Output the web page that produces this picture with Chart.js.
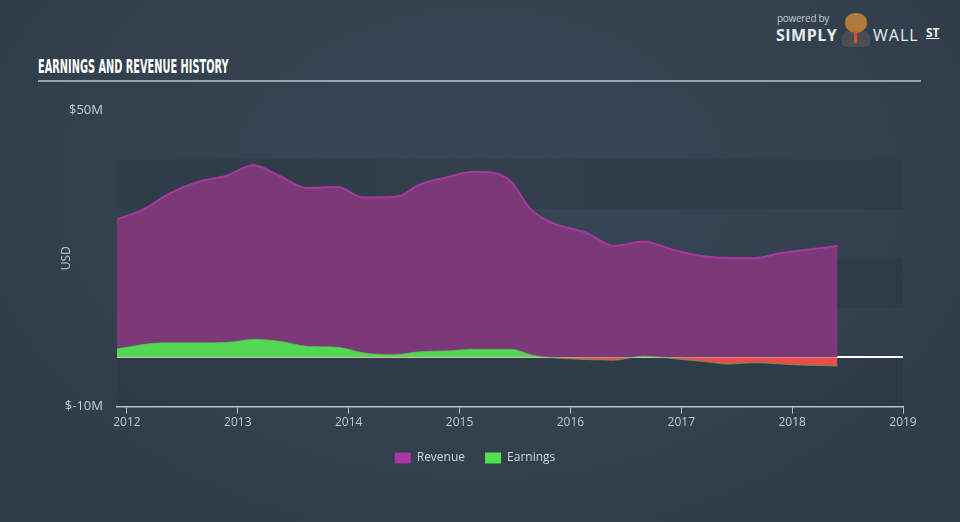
<!DOCTYPE html>
<html>
<head>
<meta charset="utf-8">
<script src="https://cdn.jsdelivr.net/npm/chart.js@4"></script>
<style>
  html, body { margin: 0; padding: 0; }
  body {
    width: 960px; height: 522px; overflow: hidden; position: relative;
    background: radial-gradient(ellipse at 50% 35%, #374655 0%, #33414f 55%, #2e3a47 100%);
    font-family: 'Open Sans', sans-serif;
  }
  #title {
    position: absolute; left: 38px; top: 55px;
    color: #fff; font-family: 'DejaVu Sans', sans-serif; font-weight: bold;
    font-size: 19px;
    transform: scaleX(0.516); transform-origin: left top; white-space: nowrap;
  }
  #rule { position: absolute; left: 38px; top: 80px; width: 883px; height: 2px; background: #9aa3ad; }
  #logo { position: absolute; left: 776px; top: 9px; width: 175px; height: 40px; color: #e8ecef; }
  #logo .pb { position: absolute; left: 1px; top: 2px; font-size: 10px; color: #c4cad0; letter-spacing: -0.3px; }
  #logo .simply { position: absolute; left: 0; top: 15px; font-size: 16px; font-weight: bold; letter-spacing: 0.5px; }
  #logo .wall { position: absolute; left: 97px; top: 15px; font-size: 16px; letter-spacing: 1px; }
  #logo .st { position: absolute; left: 150px; top: 15px; font-size: 12px; font-weight: bold; text-decoration: underline; }
  #logo .head { position: absolute; left: 69px; top: 4px; width: 22px; height: 20px; background: #b07a3a; border-radius: 45% 45% 50% 50%; }
  #logo .body { position: absolute; left: 66px; top: 20px; width: 28px; height: 18px; background: #4a4f55; border-radius: 50% 50% 20% 20%; }
  #logo .tie { position: absolute; left: 78px; top: 22px; width: 3px; height: 12px; background: #d8502a; }
  #chartBox { position: absolute; left: 0; top: 0; width: 960px; height: 522px; }
</style>
</head>
<body>
<div id="title">EARNINGS AND REVENUE HISTORY</div>
<div id="rule"></div>
<div id="logo">
  <span class="pb">powered by</span>
  <span class="simply">SIMPLY</span>
  <div class="body"></div><div class="head"></div><div class="tie"></div>
  <span class="wall">WALL</span>
  <span class="st">ST</span>
</div>
<div id="chartBox"><canvas id="chart" width="960" height="522"></canvas></div>
<script>
// Revenue history (USD millions), dates as decimal years
const revenueDates = [2011.91, 2012.14, 2012.39, 2012.66, 2012.90, 2013.14, 2013.38, 2013.62, 2013.90,
  2014.13, 2014.44, 2014.64, 2014.89, 2015.12, 2015.30, 2015.46, 2015.64, 2015.82, 2016.15, 2016.39,
  2016.66, 2016.93, 2017.23, 2017.65, 2017.89, 2018.41];
const revenueValues = [27.9, 29.8, 33.2, 35.6, 36.7, 38.8, 36.6, 34.2, 34.4,
  32.3, 32.5, 34.9, 36.4, 37.5, 37.3, 35.6, 30.0, 27.3, 25.1, 22.5,
  23.4, 21.7, 20.3, 20.0, 21.0, 22.5];

// Earnings history (USD millions)
const earningsDates = [2011.91, 2012.32, 2012.75, 2012.96, 2013.14, 2013.38, 2013.62, 2013.90, 2014.13,
  2014.40, 2014.64, 2014.92, 2015.10, 2015.46, 2015.66, 2015.82, 2015.97, 2016.39, 2016.66, 2016.93,
  2017.23, 2017.42, 2017.65, 2018.07, 2018.41];
const earningsValues = [1.7, 2.9, 2.9, 3.1, 3.6, 3.2, 2.2, 2.0, 0.9,
  0.5, 1.1, 1.3, 1.6, 1.6, 0.4, -0.1, -0.3, -0.6, 0.2, -0.3,
  -0.95, -1.4, -1.15, -1.6, -1.8];

const yearTicks = [2012, 2013, 2014, 2015, 2016, 2017, 2018, 2019];
const yLabels = { '50': '$50M', '-10': '$-10M' };

function toPoints(xs, ys) {
  return xs.map((x, i) => ({ x: x, y: ys[i] }));
}

Chart.defaults.font.family = "'Open Sans', sans-serif";
Chart.defaults.color = '#c3cad1';

// alternating horizontal bands behind the plot
const bandsPlugin = {
  id: 'bands',
  beforeDraw(chart) {
    const y = chart.scales.y, area = chart.chartArea, ctx = chart.ctx;
    ctx.save();
    ctx.fillStyle = 'rgba(30, 40, 52, 0.2)';
    [[-10, 0], [10, 20], [30, 40]].forEach(b => {
      const top = y.getPixelForValue(b[1]), bot = y.getPixelForValue(b[0]);
      ctx.fillRect(area.left, top, area.right - area.left, bot - top);
    });
    ctx.restore();
  }
};

new Chart(document.getElementById('chart'), {
  type: 'line',
  data: {
    datasets: [
      {
        label: 'Revenue',
        data: toPoints(revenueDates, revenueValues),
        borderColor: '#a8379f',
        backgroundColor: '#7b3a77',
        borderWidth: 2,
        fill: 'origin',
        pointRadius: 0,
        cubicInterpolationMode: 'monotone',
        order: 1
      },
      {
        label: 'Earnings',
        data: toPoints(earningsDates, earningsValues),
        borderColor: 'rgba(80, 200, 80, 0.6)',
        backgroundColor: '#52d853',
        borderWidth: 1,
        fill: { target: 'origin', above: '#52d853', below: '#e84c4c' },
        pointRadius: 0,
        cubicInterpolationMode: 'monotone',
        order: 0
      }
    ]
  },
  options: {
    responsive: false,
    animation: false,
    layout: { padding: { top: 110, right: 57, bottom: 48, left: 47 } },
    scales: {
      x: {
        type: 'linear',
        min: 2011.91,
        max: 2019,
        afterBuildTicks(scale) { scale.ticks = yearTicks.map(v => ({ value: v })); },
        ticks: { callback: v => String(v), maxRotation: 0, padding: 2, font: { size: 12 }, color: '#c3cad1' },
        grid: { drawOnChartArea: false, drawTicks: true, tickLength: 7, color: '#b8c2cc' },
        border: { display: true, color: '#b8c2cc', width: 1.5 }
      },
      y: {
        min: -10,
        max: 50,
        afterFit(scale) { scale.width = 70; },
        ticks: {
          stepSize: 10,
          padding: 14,
          font: { size: 13 },
          color: '#c8ced4',
          callback: v => yLabels[String(v)] || ''
        },
        grid: {
          drawTicks: false,
          color: ctx => ctx.tick && ctx.tick.value === 0 ? '#ffffff' : 'rgba(0,0,0,0)',
          lineWidth: ctx => ctx.tick && ctx.tick.value === 0 ? 2 : 0
        },
        border: { display: false },
        title: { display: true, text: 'USD', color: '#c3cad1', font: { size: 12 }, padding: { top: 12, bottom: 0 } }
      }
    },
    plugins: {
      tooltip: { enabled: false },
      legend: {
        position: 'bottom',
        labels: {
          boxWidth: 16,
          boxHeight: 11,
          padding: 20,
          color: '#d0d5da',
          font: { size: 12 },
          sort: (a, b) => a.datasetIndex - b.datasetIndex,
          generateLabels(chart) {
            const items = Chart.defaults.plugins.legend.labels.generateLabels(chart);
            const colors = ['#a8379f', '#52e04f'];
            items.forEach(it => { it.fillStyle = colors[it.datasetIndex]; it.strokeStyle = colors[it.datasetIndex]; it.lineWidth = 0; });
            return items;
          }
        }
      }
    }
  },
  plugins: [bandsPlugin]
});
</script>
</body>
</html>
